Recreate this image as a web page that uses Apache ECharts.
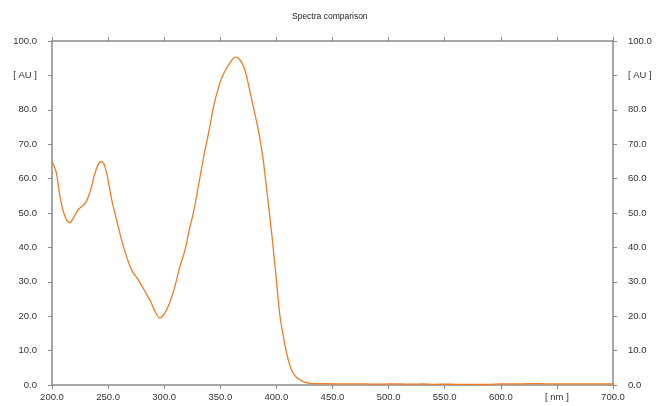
<!DOCTYPE html>
<html>
<head>
<meta charset="utf-8">
<script src="https://cdn.jsdelivr.net/npm/echarts@6/dist/echarts.min.js"></script>
<style>
  html, body { margin: 0; padding: 0; background: #fff; }
  #chart { width: 656px; height: 406px; }
</style>
</head>
<body>
<div id="chart"></div>
<script>
// Absorbance spectrum: wavelength (nm) and absorbance (AU)
const wavelengths = [
  200, 202, 204, 207, 210, 213, 216, 219, 223, 227, 230, 234, 238, 241, 243.5, 246, 248, 250,
  253, 257.5, 262, 266.5, 271, 277, 283, 288, 292, 296, 299, 302, 305, 309, 314, 318.5, 323, 326,
  330, 335, 340, 344, 348, 352, 356, 360, 363, 366, 369, 372, 376, 380, 384, 388, 392, 396,
  400, 403, 406, 410, 414, 418, 424, 430, 440, 450, 460, 470, 480, 490, 500, 510, 520, 530,
  540, 550, 560, 570, 580, 590, 600, 610, 620, 630, 640, 650, 660, 670, 680, 690, 700
];
const absorbance = [
  64.9, 63.5, 61.5, 55.0, 50.5, 48.0, 47.2, 48.5, 50.8, 52.0, 53.0, 56.2, 61.3, 64.0, 64.9, 64.5, 62.5, 59.6,
  54.2, 48.0, 42.2, 37.3, 33.4, 30.5, 27.1, 24.2, 21.3, 19.5, 20.2, 21.8, 24.0, 28.0, 34.4, 39.2, 46.0, 50.0,
  57.0, 66.0, 74.0, 81.0, 86.0, 89.8, 92.3, 94.3, 95.3, 95.0, 93.8, 91.5, 86.0, 80.0, 74.0, 66.0, 55.0, 43.5,
  30.5, 20.5, 14.5, 8.0, 4.0, 2.2, 1.0, 0.5, 0.4, 0.35, 0.3, 0.35, 0.3, 0.25, 0.3, 0.3, 0.25, 0.3,
  0.2, 0.25, 0.2, 0.2, 0.15, 0.2, 0.3, 0.35, 0.35, 0.4, 0.35, 0.35, 0.3, 0.3, 0.3, 0.3, 0.3
];

// Axis ticks; one slot on each axis carries the unit instead of a number
const xTicks = [200, 250, 300, 350, 400, 450, 500, 550, 600, 650, 700];
const xUnitAt = 650, xUnit = '[ nm ]';
const yTicks = [0, 10, 20, 30, 40, 50, 60, 70, 80, 90, 100];
const yUnitAt = 90, yUnit = '[ AU ]';

const points = wavelengths.map((w, i) => [w, absorbance[i]]);

const axisGray = '#8a8a8a';
const labelStyle = { color: '#333', fontSize: 9.5, fontFamily: 'Liberation Sans, Arial, sans-serif' };

const xLabel = v => (v === xUnitAt ? xUnit : v.toFixed(1));
const yLabel = v => (v === yUnitAt ? yUnit : v.toFixed(1));

const baseX = {
  type: 'value', min: xTicks[0], max: xTicks[xTicks.length - 1], interval: 50,
  axisLine: { show: true, onZero: false, lineStyle: { color: axisGray, width: 1.5 } },
  axisTick: { show: true, inside: false, length: 4, lineStyle: { color: axisGray, width: 1 } },
  splitLine: { show: false }
};
const baseY = {
  type: 'value', min: yTicks[0], max: yTicks[yTicks.length - 1], interval: 10,
  axisLine: { show: true, onZero: false, lineStyle: { color: axisGray, width: 1.5 } },
  axisTick: { show: true, inside: false, length: 4, lineStyle: { color: axisGray, width: 1 } },
  splitLine: { show: false }
};

const chart = echarts.init(document.getElementById('chart'), null, { renderer: 'canvas' });
chart.setOption({
  animation: false,
  backgroundColor: '#fff',
  title: {
    text: 'Spectra comparison', left: 292, top: 12, padding: 0,
    textStyle: { fontSize: 8.5, fontWeight: 'normal', color: '#222', fontFamily: 'Liberation Sans, Arial, sans-serif' }
  },
  grid: { left: 52, right: 43, top: 41, bottom: 21 },
  xAxis: [
    Object.assign({}, baseX, { position: 'bottom',
      axisLabel: Object.assign({ margin: 7, formatter: xLabel }, labelStyle) }),
    Object.assign({}, baseX, { position: 'top', axisLabel: { show: false } })
  ],
  yAxis: [
    Object.assign({}, baseY, { position: 'left',
      axisLabel: Object.assign({ margin: 15, formatter: yLabel }, labelStyle) }),
    Object.assign({}, baseY, { position: 'right',
      axisLabel: Object.assign({ margin: 15, formatter: yLabel }, labelStyle) })
  ],
  series: [{
    type: 'line',
    data: points,
    xAxisIndex: 0, yAxisIndex: 0,
    smooth: 0.3,
    showSymbol: false,
    lineStyle: { color: '#f47b20', width: 1.3 }
  }]
});
</script>
</body>
</html>
